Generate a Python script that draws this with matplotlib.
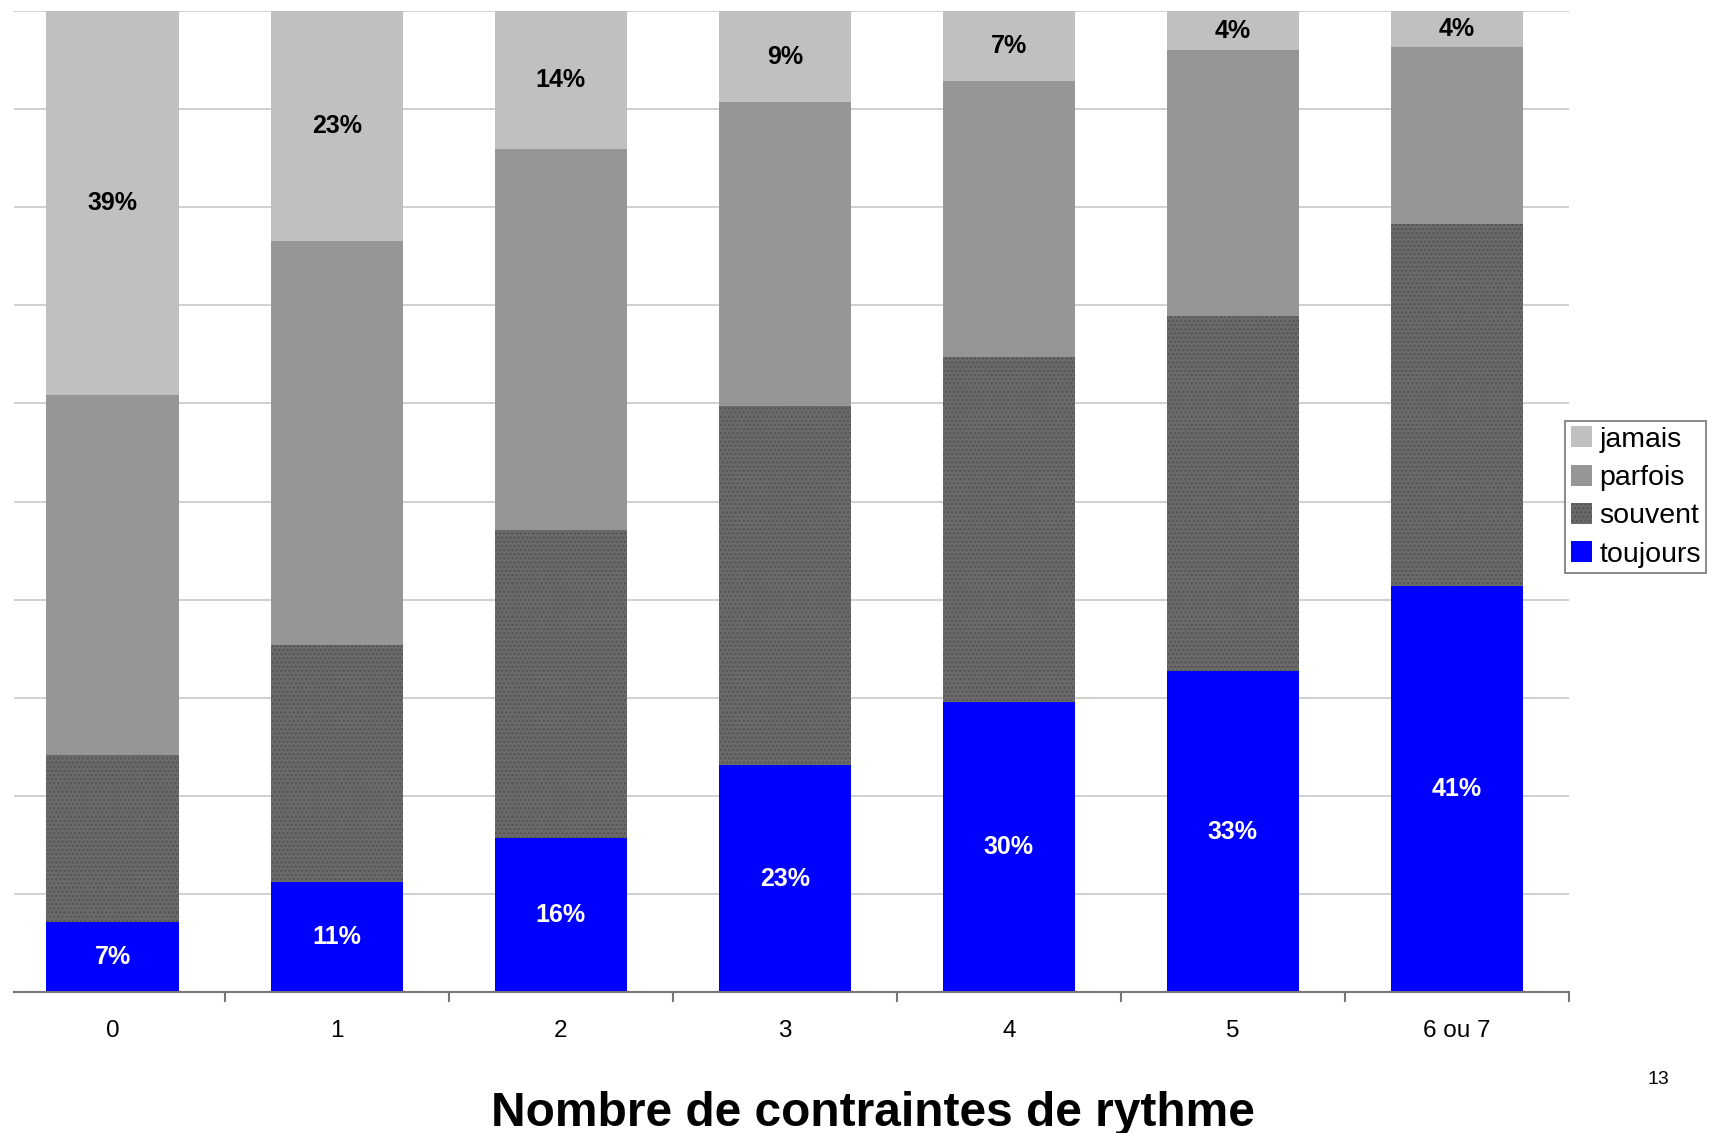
import matplotlib
matplotlib.use("Agg")
import matplotlib.pyplot as plt
import numpy as np

plt.rcParams['font.family'] = ['Liberation Sans', 'DejaVu Sans']

# data (percent of each bar)
categories = ['0', '1', '2', '3', '4', '5', '6 ou 7']
toujours = [7.1, 11.2, 15.7, 23.1, 29.6, 32.7, 41.4]
souvent = [17.1, 24.2, 31.4, 36.6, 35.1, 36.2, 36.9]
parfois = [36.7, 41.2, 38.8, 31.0, 28.2, 27.1, 18.0]
jamais = [39.1, 23.4, 14.1, 9.3, 7.1, 4.0, 3.7]

series = [('toujours', toujours, '#0000ff', None),
          ('souvent', souvent, '#6b6b6b', '....'),
          ('parfois', parfois, '#969696', None),
          ('jamais', jamais, '#c0c0c0', None)]

plt.rcParams['hatch.linewidth'] = 1.2

fig = plt.figure(figsize=(17.10, 11.33), dpi=100)
ax = fig.add_axes([14/1710, 1 - 992/1133, (1569 - 14)/1710, (992 - 11)/1133])

x = np.arange(len(categories))
width = 0.59
bottom = np.zeros(len(categories))
handles = {}
for name, vals, col, hatch in series:
    vals = np.array(vals, dtype=float)
    if hatch:
        h = ax.bar(x, vals, width, bottom=bottom, color=col, hatch=hatch,
                   edgecolor='#555555', linewidth=0, zorder=3)
    else:
        h = ax.bar(x, vals, width, bottom=bottom, color=col, linewidth=0, zorder=3)
    handles[name] = h
    if name == 'toujours':
        for xi, b, v in zip(x, bottom, vals):
            ax.text(xi, b + v / 2, f'{v:.0f}%', ha='center', va='center',
                    color='white', fontsize=18, fontweight='bold', zorder=4)
    if name == 'jamais':
        for xi, b, v in zip(x, bottom, vals):
            ax.text(xi, b + v / 2, f'{v:.0f}%', ha='center', va='center',
                    color='black', fontsize=18, fontweight='bold', zorder=4)
    bottom += vals

ax.set_ylim(0, 100)
ax.set_xlim(-0.44, 6.5)
ax.set_yticks(np.arange(10, 101, 10))
ax.yaxis.grid(True, color='#c8c8c8', linewidth=1.2, zorder=0)
ax.tick_params(axis='y', left=False, labelleft=False)
for s in ['left', 'right', 'top']:
    ax.spines[s].set_visible(False)
ax.spines['bottom'].set_color('#777777')
ax.spines['bottom'].set_linewidth(1.5)
ax.spines['bottom'].set_zorder(5)

ax.set_xticks(x)
ax.set_xticklabels(categories, fontsize=17.5)
ax.tick_params(axis='x', length=0, pad=20)
ax.set_xticks(np.arange(0.5, 7, 1), minor=True)
ax.tick_params(axis='x', which='minor', length=7, width=1.5, color='#777777')

leg_order = ['jamais', 'parfois', 'souvent', 'toujours']
leg = fig.legend([handles[n] for n in leg_order], leg_order,
                 loc='center left', bbox_to_anchor=(1565/1710, 1 - 497/1133),
                 fontsize=20.5, frameon=True, fancybox=False, edgecolor='#555555',
                 handlelength=0.75, handleheight=0.75, handletextpad=0.25,
                 borderpad=0.2, labelspacing=0.42, borderaxespad=0)
leg.get_frame().set_linewidth(1.2)

fig.text(873/1710, 1 - 1113/1133, 'Nombre de contraintes de rythme',
         ha='center', va='center', fontsize=34.5, fontweight='bold')
fig.text(1658/1710, 1 - 1080/1133, '13', ha='center', va='center', fontsize=14)

fig.savefig('out.png', dpi=100)
